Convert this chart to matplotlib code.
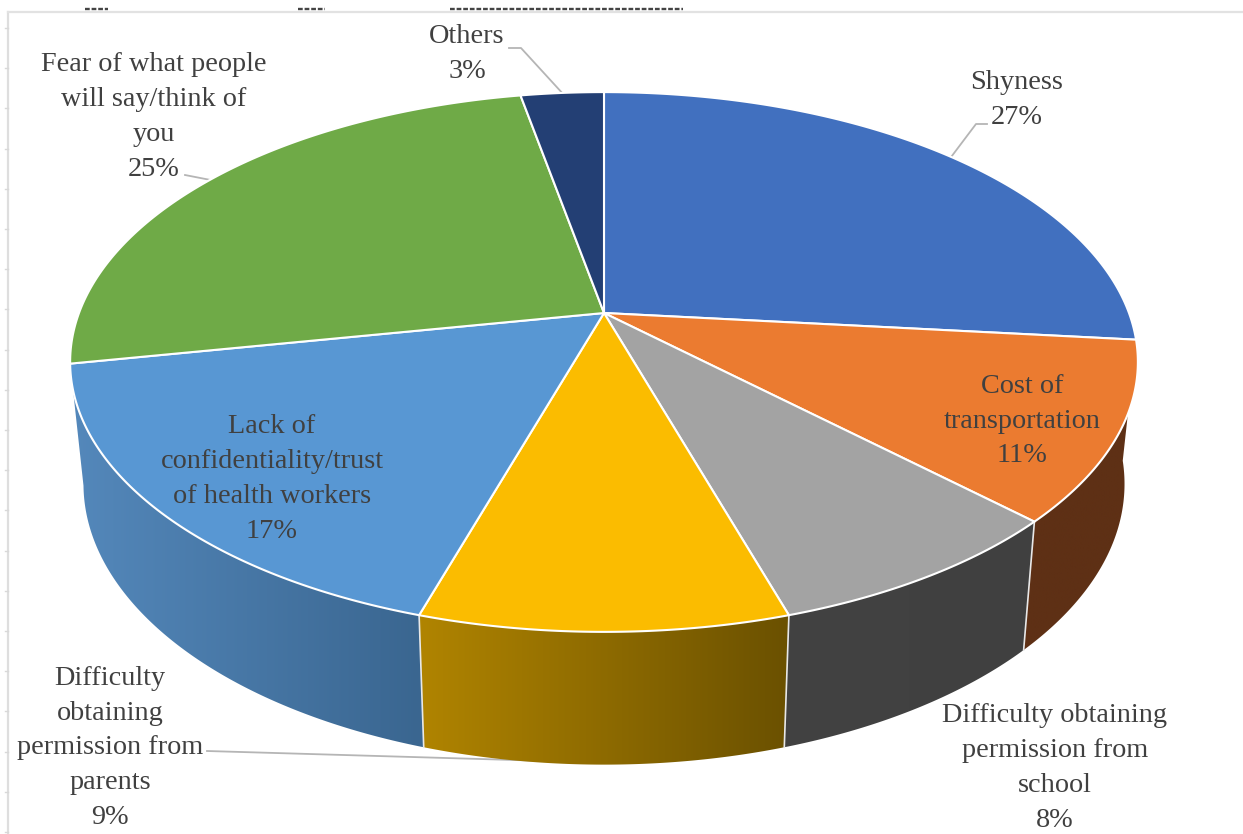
import numpy as np
import matplotlib
matplotlib.use("Agg")
from matplotlib import pyplot as plt
from matplotlib.colors import to_rgb
from matplotlib.patches import Polygon

labels = ["Shyness", "Cost of\ntransportation",
          "Difficulty obtaining\npermission from\nschool",
          "Difficulty\nobtaining\npermission from\nparents",
          "Lack of\nconfidentiality/trust\nof health workers",
          "Fear of what people\nwill say/think of\nyou", "Others"]
values = [26.6, 10.7, 8.0, 9.4, 17.3, 25.0, 3.0]
top_colors = ["#4170bf", "#eb7b30", "#a3a3a3", "#fbbc00", "#5897d3", "#6faa47", "#233f74"]
# side wall colours, left to right across the wall; back walls are hidden
wall_colors = [None, ("#5e3015", "#5e3015"), ("#424242", "#404040"), ("#b08400", "#6b5100"),
               ("#5488bb", "#3a6690"), None, None]
label_xy = [(1017, 100), (1022, 421), (1055, 768), (110, 748), (272, 479), (154, 117), (467, 54)]
leader_elbow = {0: (976, 124), 3: (207, 751), 5: (185, 175), 6: (521, 48)}
leader_end = {0: (987, 124), 6: (509, 48)}

CX, CY = 604.0, 313.0
K = 0.1815
A, B = 525.0, 261.0


def project(angle, bottom=False):
    # clockwise angle from 12 o'clock, seen through a simple perspective
    xx = np.sin(angle)
    yy = np.cos(angle)
    w = 1 + K * yy
    px = A * xx / w
    py = -B * yy / w
    if bottom:
        return CX + 0.975 * px, 433 + 1.04 * py
    return CX + px, CY + py


fig = plt.figure(figsize=(12.43, 8.34), dpi=100)
ax = fig.add_axes([0, 0, 1, 1])

# frame and ruler marks around the plot area
ax.plot([8, 8], [12, 834], color="#dedede", lw=1.6)
ax.plot([8, 1243], [11.5, 11.5], color="#e2e2e2", lw=1.6)
for yt in np.arange(28, 834, 40.2):
    ax.plot([5, 8], [yt, yt], color="#d8d8d8", lw=1)
for xs, xe in [(85, 108), (298, 325), (450, 683)]:
    ax.plot([xs, xe], [9.3, 9.3], color="#444444", lw=1.7, ls=(0, (2, 0.8)))

edges = np.radians(np.cumsum([0] + values) * 3.6)

# side walls first, the top face covers whatever lies behind it
for i in [1, 2, 3, 4]:
    t = np.linspace(edges[i], edges[i + 1], 120)
    x0, y0 = project(t)
    x1, y1 = project(t, bottom=True)
    xy = np.column_stack([np.r_[x0, x1[::-1]], np.r_[y0, y1[::-1]]])
    shape = Polygon(xy, closed=True, transform=ax.transData, fc="none", ec="none")
    ax.add_patch(shape)
    c0, c1 = [np.array(to_rgb(c)) for c in wall_colors[i]]
    grad = np.linspace(c0, c1, 64)[np.newaxis, :, :]
    im = ax.imshow(grad, extent=[xy[:, 0].min(), xy[:, 0].max(), xy[:, 1].max(), xy[:, 1].min()],
                   aspect="auto", interpolation="bilinear", zorder=2)
    im.set_clip_path(shape)

# white seams between the visible walls
for e in edges[2:5]:
    x0, y0 = project(e)
    x1, y1 = project(e, bottom=True)
    ax.plot([x0, x1], [y0, y1], color="#e8e8e8", lw=1.2, zorder=3)

# top face
for i in range(len(values)):
    t = np.linspace(edges[i], edges[i + 1], 120)
    x, y = project(t)
    ax.fill(np.r_[CX, x], np.r_[CY, y], facecolor=top_colors[i], edgecolor="white", lw=1.5,
            joinstyle="round", zorder=4)

# leader lines from the rim to the outer labels
mids = (edges[:-1] + edges[1:]) / 2
for i, elbow in leader_elbow.items():
    px, py = project(mids[i], bottom=(i == 3))
    if i == 3:
        py -= 2
    xs = [px, elbow[0]]
    ys = [py, elbow[1]]
    if i in leader_end:
        xs.append(leader_end[i][0])
        ys.append(leader_end[i][1])
    ax.plot(xs, ys, color="#b5b5b5", lw=1.3, zorder=1)

for i, lab in enumerate(labels):
    ax.text(label_xy[i][0], label_xy[i][1], f"{lab}\n{values[i]:.0f}%", ha="center", va="center",
            multialignment="center", family="Liberation Serif", fontsize=20.3, color="#404040",
            linespacing=1.51, zorder=5)

ax.set_xlim(0, 1243)
ax.set_ylim(834, 0)
ax.axis("off")

fig.savefig("out.png", dpi=100)
